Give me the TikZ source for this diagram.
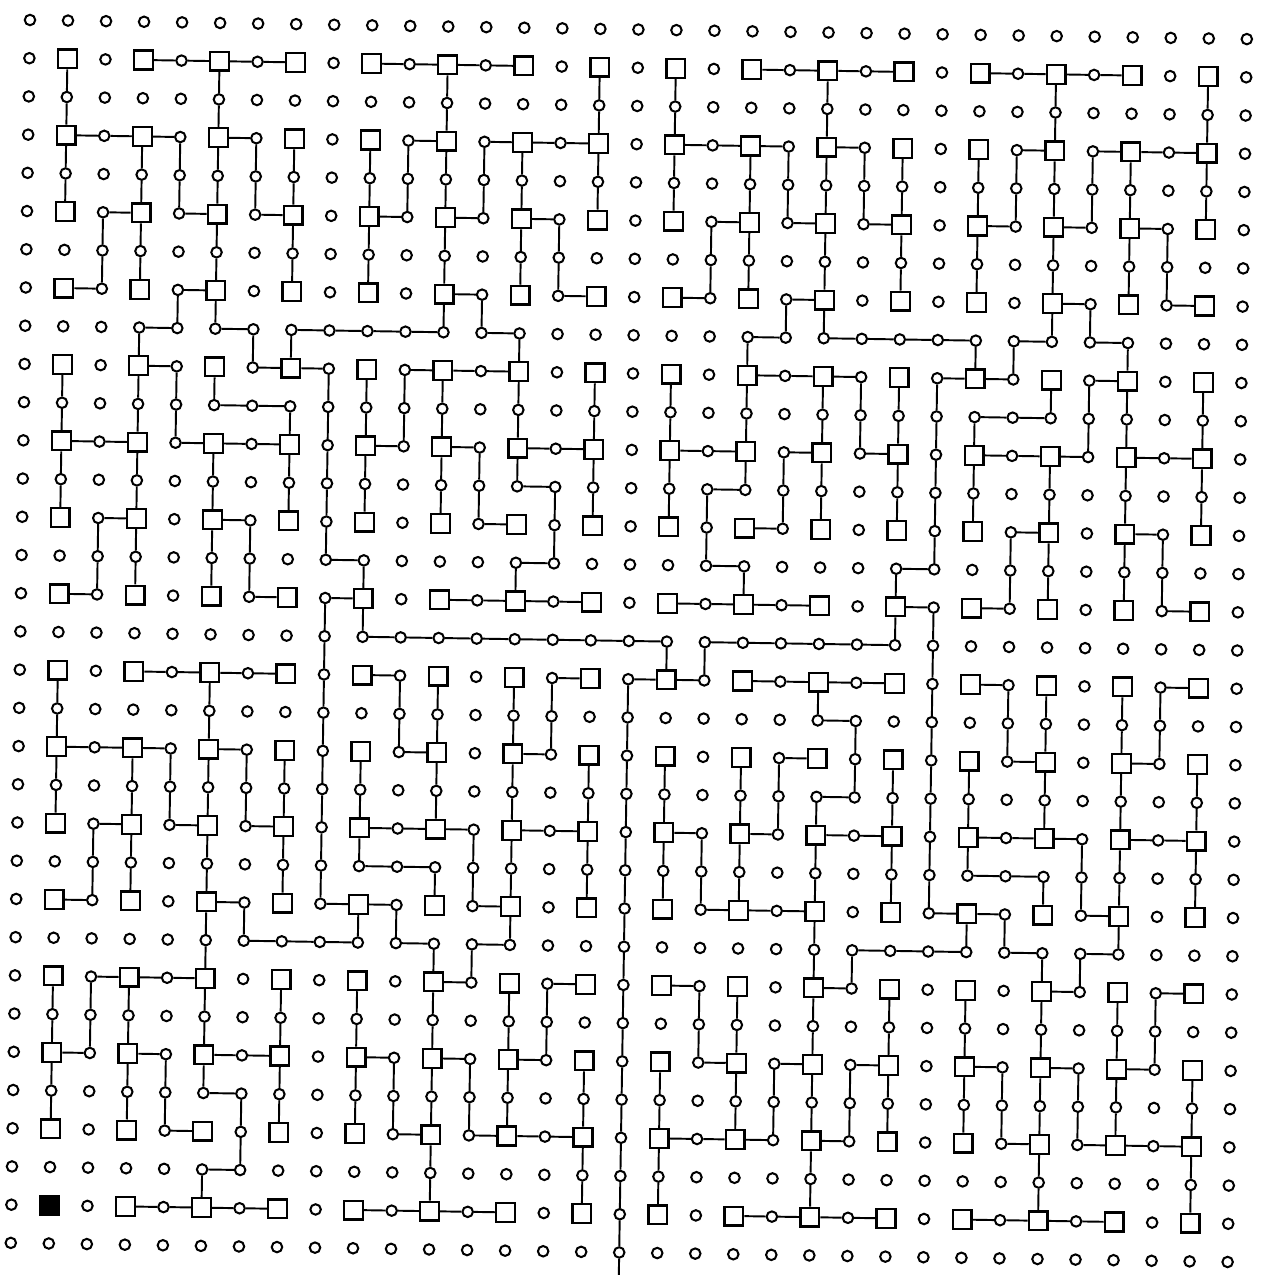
\documentclass[tikz,border=0pt]{standalone}
\usepackage{tikz}

\begin{document}
\begin{tikzpicture}[
  dotnode/.style={circle,draw,line width=1.15pt,inner sep=0pt,minimum size=0.21cm},
  boxnode/.style={rectangle,draw,line width=1.3pt,inner sep=0pt,minimum size=0.375cm},
  rootnode/.style={boxnode,fill=black},
  link/.style={line width=1.1pt}]
  \useasboundingbox (0,0) rectangle (25.36,-25.5);
  \begin{scope}[shift={(0.6,-0.4)},rotate=-0.9,x=0.7606cm,y=-0.7644cm]
  % lattice: boxes at odd/odd, dots elsewhere
  \foreach \c in {0,...,32}
    \foreach \r in {0,...,32}{
      \pgfmathtruncatemacro\kind{mod(\c,2)*mod(\r,2)+and(\c==1,\r==31)}
      \ifcase\kind
        \node[dotnode] (p-\c-\r) at (\c,\r) {};
      \or
        \node[boxnode] (p-\c-\r) at (\c,\r) {};
      \else
        \node[rootnode] (p-\c-\r) at (\c,\r) {};
      \fi
    }
  % horizontal links: row / left columns
  \foreach \r/\cs in {1/{3,4,5,6,9,10,11,12,19,20,21,22,25,26,27,28},
      3/{1,2,3,5,10,12,13,14,17,18,19,21,26,28,29,30},
      5/{2,4,6,9,11,13,18,20,22,25,27,29},
      7/{1,4,11,14,17,20,27,30},
      8/{3,5,7,8,9,10,12,19,21,22,23,24,26,28},
      9/{3,6,7,10,11,12,19,20,21,24,25,28},
      10/{5,6,25,26},
      11/{1,2,4,5,6,9,11,13,14,17,18,20,22,25,26,27,29,30},
      12/{13,18},
      13/{2,5,12,19,26,29},
      14/{8,13,18,23},
      15/{1,6,8,11,12,13,14,17,18,19,20,23,25,30},
      16/{9,10,11,12,13,14,15,16,18,19,20,21,22},
      17/{3,4,5,6,9,14,16,17,19,20,21,22,25,30},
      18/{21},
      19/{1,2,3,5,10,13,20,26,29},
      20/{21},
      21/{2,4,6,9,10,11,13,14,17,19,21,22,25,26,27,29,30},
      22/{9,10,25,26},
      23/{1,5,8,9,12,18,19,20,24,25,28},
      24/{6,7,8,10,12,22,23,24,26,28},
      25/{2,3,4,11,14,17,21,27,30},
      27/{1,3,5,6,9,11,13,18,20,22,25,27,29},
      28/{5},
      29/{4,10,12,13,14,17,18,19,21,26,28,29,30},
      30/{5},
      31/{3,4,5,6,9,10,11,12,19,20,21,22,25,26,27,28}}
    \foreach \c in \cs {
      \pgfmathtruncatemacro\cn{\c+1}
      \draw[link] (p-\c-\r) -- (p-\cn-\r);
    }
  % vertical links: upper row / columns
  \foreach \r/\cs in {1/{1,5,11,15,17,21,27,31},
      2/{1,5,11,15,17,21,27,31},
      3/{1,3,4,5,6,7,9,10,11,12,13,15,17,19,20,21,22,23,25,26,27,28,29,31},
      4/{1,3,4,5,6,7,9,10,11,12,13,15,17,19,20,21,22,23,25,26,27,28,29,31},
      5/{2,3,5,7,9,11,13,14,18,19,21,23,25,27,29,30},
      6/{2,3,5,7,9,11,13,14,18,19,21,23,25,27,29,30},
      7/{4,5,11,12,20,21,27,28},
      8/{3,6,7,13,19,25,26,29},
      9/{1,3,4,5,8,9,10,11,13,15,17,19,21,22,23,24,27,28,29,31},
      10/{1,3,4,7,8,9,10,11,13,15,17,19,21,22,23,24,25,28,29,31},
      11/{1,3,5,7,8,9,11,12,13,15,17,19,20,21,23,24,25,27,29,31},
      12/{1,3,5,7,8,9,11,12,14,15,17,18,20,21,23,24,25,27,29,31},
      13/{2,3,5,6,8,14,18,24,26,27,29,30},
      14/{2,3,5,6,9,13,19,23,26,27,29,30},
      15/{8,9,23,24},
      16/{8,17,18,24},
      17/{1,5,8,10,11,13,14,16,21,24,26,27,29,30},
      18/{1,5,8,10,11,13,14,16,22,24,26,27,29,30},
      19/{1,3,4,5,6,7,8,9,11,13,15,16,17,19,20,22,23,24,25,27,29,31},
      20/{1,3,4,5,6,7,8,9,11,13,15,16,17,19,20,21,23,24,25,27,29,31},
      21/{2,3,5,7,8,9,12,13,15,16,17,18,19,21,23,24,25,28,29,31},
      22/{2,3,5,7,8,11,12,13,15,16,17,18,19,21,23,24,27,28,29,31},
      23/{5,6,9,10,13,16,21,25,26,29},
      24/{5,11,12,16,21,22,27,28},
      25/{1,2,3,5,7,9,11,13,14,16,18,19,21,23,25,27,29,30},
      26/{1,2,3,5,7,9,11,13,14,16,18,19,21,23,25,27,29,30},
      27/{1,3,4,5,7,9,10,11,12,13,15,16,17,19,20,21,22,23,25,26,27,28,29,31},
      28/{1,3,4,6,7,9,10,11,12,13,15,16,17,19,20,21,22,23,25,26,27,28,29,31},
      29/{6,11,15,16,17,21,27,31},
      30/{5,11,15,16,17,21,27,31},
      31/{16}}
    \foreach \c in \cs {
      \pgfmathtruncatemacro\rn{\r+1}
      \draw[link] (p-\c-\r) -- (p-\c-\rn);
    }
  \coordinate (exit) at (16,32.95);
  \draw[link] (p-16-32) -- (exit);
  \end{scope}
\end{tikzpicture}
\end{document}
